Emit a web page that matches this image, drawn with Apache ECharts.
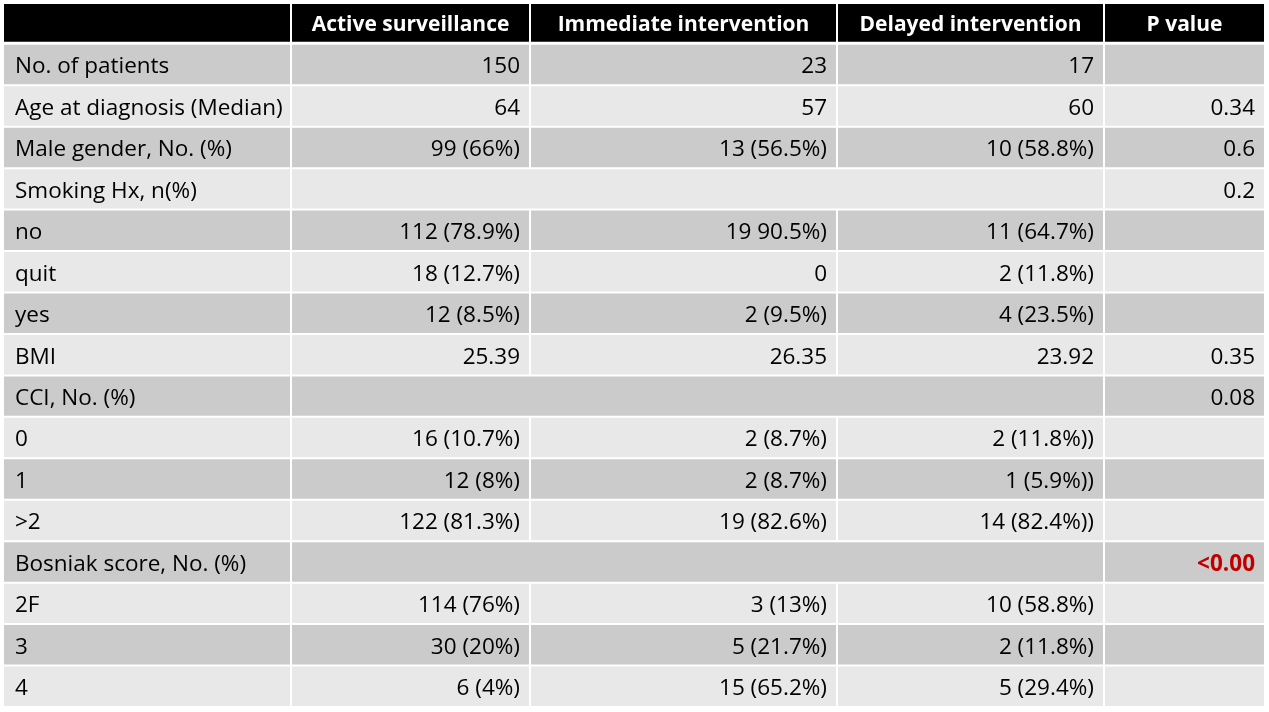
<!DOCTYPE html>
<html>
<head>
<meta charset="utf-8">
<script src="https://cdn.jsdelivr.net/npm/echarts@6/dist/echarts.min.js"></script>
<style>
html,body{margin:0;padding:0;background:#fff;}
#chart{width:1269px;height:712px;}
</style>
</head>
<body>
<div id="chart"></div>
<script>
// ---- data ----
const columnHeaders = ['', 'Active surveillance', 'Immediate intervention', 'Delayed intervention', 'P value'];
const rowLabels = ['No. of patients', 'Age at diagnosis (Median)', 'Male gender, No. (%)', 'Smoking Hx, n(%)', 'no', 'quit', 'yes', 'BMI', 'CCI, No. (%)', '0', '1', '>2', 'Bosniak score, No. (%)', '2F', '3', '4'];
const activeSurveillance = ['150', '64', '99 (66%)', '', '112 (78.9%)', '18 (12.7%)', '12 (8.5%)', '25.39', '', '16 (10.7%)', '12 (8%)', '122 (81.3%)', '', '114 (76%)', '30 (20%)', '6 (4%)'];
const immediateIntervention = ['23', '57', '13 (56.5%)', '', '19 90.5%)', '0', '2 (9.5%)', '26.35', '', '2 (8.7%)', '2 (8.7%)', '19 (82.6%)', '', '3 (13%)', '5 (21.7%)', '15 (65.2%)'];
const delayedIntervention = ['17', '60', '10 (58.8%)', '', '11 (64.7%)', '2 (11.8%)', '4 (23.5%)', '23.92', '', '2 (11.8%))', '1 (5.9%))', '14 (82.4%))', '', '10 (58.8%)', '2 (11.8%)', '5 (29.4%)'];
const pValues = ['', '0.34', '0.6', '0.2', '', '', '', '0.35', '0.08', '', '', '', '<0.00', '', '', ''];
const significantP = ['<0.00'];

// ---- layout (not data) ----
const colEdges = [0, 287, 526, 833, 1100, 1260];
const HEADER_SPAN = 0.96;
const FONT = '"Open Sans", sans-serif';
const FS_BODY = 22.5;
const FS_HEAD = 21;

const cells = [];
// header cells: row index -1 spans [-HEADER_SPAN, 0]
columnHeaders.forEach((h, c) => cells.push({ value: [c, c, -1], text: h, kind: 'header' }));
rowLabels.forEach((lab, i) => {
  const shade = i % 2 === 0 ? 'dark' : 'light';
  cells.push({ value: [0, 0, i], text: lab, kind: shade, align: 'left' });
  const vals = [activeSurveillance[i], immediateIntervention[i], delayedIntervention[i]];
  if (vals.every(v => v === '')) {
    cells.push({ value: [1, 3, i], text: '', kind: shade, align: 'right' });
  } else {
    vals.forEach((v, k) => cells.push({ value: [k + 1, k + 1, i], text: v, kind: shade, align: 'right' }));
  }
  cells.push({ value: [4, 4, i], text: pValues[i], kind: shade, align: 'right', sig: significantP.includes(pValues[i]) });
});

const fills = { header: '#000000', dark: '#cbcbcb', light: '#e8e8e8' };

const chart = echarts.init(document.getElementById('chart'), null, { renderer: 'canvas' });
chart.setOption({
  backgroundColor: '#ffffff',
  animation: false,
  grid: { left: 4, right: 5, top: 4, bottom: 5 },
  xAxis: { type: 'value', min: 0, max: 1260, show: false },
  yAxis: { type: 'value', min: -HEADER_SPAN, max: rowLabels.length, inverse: true, show: false },
  series: [{
    type: 'custom',
    data: cells,
    renderItem: function (params, api) {
      const d = cells[params.dataIndex];
      const c0 = api.value(0), c1 = api.value(1), r = api.value(2);
      const top = r < 0 ? -HEADER_SPAN : r;
      const bot = r < 0 ? 0 : r + 1;
      const pTL = api.coord([colEdges[c0], top]);
      const pBR = api.coord([colEdges[c1 + 1], bot]);
      const x0 = pTL[0] + (c0 === 0 ? 0 : 1);
      const x1 = pBR[0] - (c1 === 4 ? 0 : 1);
      const y0 = pTL[1] + (r < 0 ? 0 : 1);
      const y1 = pBR[1] - (r < 0 ? 2 : 1);
      const h = y1 - y0;
      let tx, align;
      if (d.kind === 'header') { tx = (x0 + x1) / 2; align = 'center'; }
      else if (d.align === 'left') { tx = x0 + 11; align = 'left'; }
      else { tx = x1 - 9; align = 'right'; }
      const isHead = d.kind === 'header';
      return {
        type: 'group',
        children: [
          { type: 'rect', shape: { x: x0, y: y0, width: x1 - x0, height: h }, style: { fill: fills[d.kind] } },
          { type: 'text', style: {
              x: tx, y: y0 + h / 2 + 2.5, text: d.text, align: align, verticalAlign: 'middle',
              font: (isHead || d.sig ? 'bold ' : '') + (isHead ? FS_HEAD : FS_BODY) + 'px ' + FONT,
              fill: isHead ? '#ffffff' : (d.sig ? '#c00000' : '#000000')
          } }
        ]
      };
    }
  }]
});
</script>
</body>
</html>
